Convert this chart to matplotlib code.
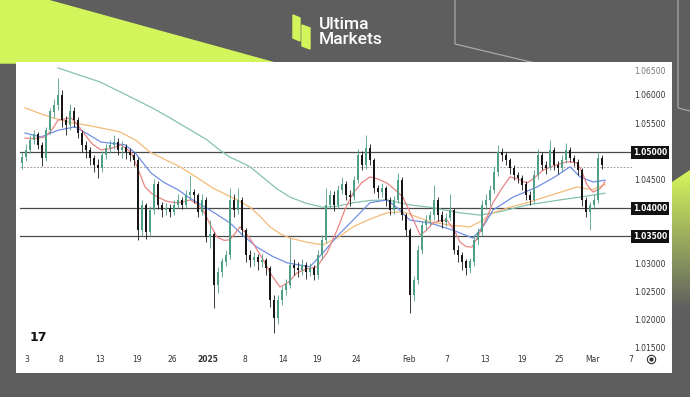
import numpy as np
import matplotlib
matplotlib.use("Agg")
import matplotlib.pyplot as plt
from matplotlib.patches import Polygon, Rectangle

# ---- candle data (4h-style bars) ----
close = [1.0491, 1.0504, 1.0522, 1.0531, 1.0513, 1.0490, 1.0539, 1.0572, 1.0584, 1.0602,
         1.0557, 1.0548, 1.0572, 1.0557, 1.0534, 1.0513, 1.0504, 1.0490, 1.0477, 1.0472,
         1.0495, 1.0507, 1.0513, 1.0518, 1.0504, 1.0509, 1.0500, 1.0495, 1.0486, 1.0361,
         1.0406, 1.0357, 1.0397, 1.0442, 1.0406, 1.0397, 1.0401, 1.0394, 1.0406, 1.0415,
         1.0406, 1.0424, 1.0429, 1.0424, 1.0394, 1.0415, 1.0349, 1.0353, 1.0264, 1.0287,
         1.0305, 1.0317, 1.0415, 1.0397, 1.0415, 1.0361, 1.0317, 1.0308, 1.0312, 1.0305,
         1.0308, 1.0294, 1.0237, 1.0205, 1.0237, 1.0255, 1.0264, 1.0299, 1.0294, 1.0290,
         1.0299, 1.0287, 1.0294, 1.0281, 1.0317, 1.0344, 1.0406, 1.0424, 1.0406, 1.0433,
         1.0442, 1.0424, 1.0420, 1.0450, 1.0495, 1.0477, 1.0507, 1.0486, 1.0436, 1.0429,
         1.0436, 1.0415, 1.0397, 1.0415, 1.0450, 1.0388, 1.0361, 1.0246, 1.0272, 1.0326,
         1.0370, 1.0379, 1.0388, 1.0415, 1.0388, 1.0375, 1.0383, 1.0397, 1.0326, 1.0317,
         1.0305, 1.0294, 1.0305, 1.0344, 1.0357, 1.0406, 1.0415, 1.0433, 1.0465, 1.0500,
         1.0495, 1.0486, 1.0472, 1.0459, 1.0454, 1.0442, 1.0424, 1.0415, 1.0459, 1.0495,
         1.0477, 1.0472, 1.0504, 1.0477, 1.0472, 1.0486, 1.0504, 1.0490, 1.0482, 1.0468,
         1.0415, 1.0394, 1.0406, 1.0415, 1.0490, 1.0477]
high = [1.0500, 1.0515, 1.0530, 1.0540, 1.0536, 1.0518, 1.0545, 1.0578, 1.0595, 1.0632,
        1.0610, 1.0565, 1.0585, 1.0580, 1.0562, 1.0540, 1.0520, 1.0510, 1.0495, 1.0488,
        1.0502, 1.0515, 1.0522, 1.0531, 1.0525, 1.0520, 1.0515, 1.0508, 1.0500, 1.0492,
        1.0415, 1.0410, 1.0405, 1.0452, 1.0448, 1.0412, 1.0410, 1.0408, 1.0415, 1.0425,
        1.0420, 1.0432, 1.0459, 1.0435, 1.0428, 1.0425, 1.0420, 1.0380, 1.0358, 1.0295,
        1.0312, 1.0325, 1.0436, 1.0425, 1.0436, 1.0420, 1.0365, 1.0325, 1.0322, 1.0318,
        1.0318, 1.0312, 1.0298, 1.0245, 1.0245, 1.0262, 1.0275, 1.0347, 1.0310, 1.0305,
        1.0310, 1.0305, 1.0302, 1.0300, 1.0325, 1.0352, 1.0436, 1.0432, 1.0430, 1.0442,
        1.0455, 1.0448, 1.0432, 1.0458, 1.0505, 1.0502, 1.0531, 1.0515, 1.0490, 1.0442,
        1.0445, 1.0440, 1.0420, 1.0422, 1.0463, 1.0455, 1.0392, 1.0365, 1.0280, 1.0335,
        1.0378, 1.0388, 1.0395, 1.0442, 1.0420, 1.0395, 1.0392, 1.0425, 1.0400, 1.0335,
        1.0322, 1.0310, 1.0312, 1.0352, 1.0365, 1.0415, 1.0425, 1.0442, 1.0475, 1.0513,
        1.0508, 1.0500, 1.0490, 1.0478, 1.0465, 1.0460, 1.0448, 1.0430, 1.0468, 1.0505,
        1.0500, 1.0485, 1.0522, 1.0510, 1.0485, 1.0495, 1.0516, 1.0510, 1.0495, 1.0488,
        1.0472, 1.0420, 1.0412, 1.0425, 1.0500, 1.0495]
low = [1.0470, 1.0485, 1.0498, 1.0515, 1.0505, 1.0475, 1.0485, 1.0532, 1.0560, 1.0575,
       1.0545, 1.0530, 1.0540, 1.0545, 1.0525, 1.0500, 1.0490, 1.0478, 1.0465, 1.0454,
       1.0465, 1.0488, 1.0498, 1.0505, 1.0495, 1.0490, 1.0488, 1.0485, 1.0475, 1.0344,
       1.0350, 1.0345, 1.0350, 1.0390, 1.0398, 1.0385, 1.0388, 1.0385, 1.0388, 1.0400,
       1.0398, 1.0400, 1.0415, 1.0410, 1.0385, 1.0388, 1.0340, 1.0330, 1.0223, 1.0250,
       1.0278, 1.0298, 1.0310, 1.0385, 1.0390, 1.0352, 1.0305, 1.0295, 1.0298, 1.0290,
       1.0295, 1.0282, 1.0225, 1.0178, 1.0195, 1.0228, 1.0245, 1.0258, 1.0282, 1.0278,
       1.0282, 1.0275, 1.0280, 1.0272, 1.0275, 1.0310, 1.0338, 1.0398, 1.0395, 1.0400,
       1.0425, 1.0415, 1.0405, 1.0415, 1.0445, 1.0468, 1.0470, 1.0478, 1.0428, 1.0418,
       1.0420, 1.0405, 1.0388, 1.0390, 1.0410, 1.0380, 1.0350, 1.0214, 1.0235, 1.0265,
       1.0318, 1.0362, 1.0370, 1.0380, 1.0378, 1.0365, 1.0368, 1.0378, 1.0318, 1.0305,
       1.0290, 1.0281, 1.0285, 1.0298, 1.0335, 1.0350, 1.0398, 1.0405, 1.0428, 1.0458,
       1.0485, 1.0478, 1.0462, 1.0450, 1.0445, 1.0432, 1.0415, 1.0406, 1.0410, 1.0452,
       1.0468, 1.0462, 1.0468, 1.0468, 1.0462, 1.0465, 1.0480, 1.0482, 1.0475, 1.0460,
       1.0405, 1.0385, 1.0361, 1.0398, 1.0410, 1.0470]
first_open = 1.0480

# ---- moving averages, sampled along the chart (bar index, price) ----
ma20_x = [0.75, 3, 5.75, 7.5, 9, 12.25, 14, 15.75, 17.5, 19.75, 22, 24.75, 27.25, 29, 30.75,
          32.5, 34, 36, 38.25, 40, 42, 43.75, 45.25, 47, 48.75, 50.5, 52, 54.5, 56, 57.75,
          60, 62.5, 64.5, 66.5, 68.75, 71, 73.75, 76.25, 78.75, 80.75, 82.75, 85, 87, 89,
          91.25, 93.25, 95.25, 97.5, 99.5, 101, 102.75, 104.5, 106.25, 108, 109.5, 111,
          112.5, 114, 116, 117.75, 120, 122, 124, 126.25, 128.25, 130.25, 133, 136.25,
          138.75, 140, 141.25, 142.75, 144.5, 145.75]
ma20_y = [1.0525, 1.0524, 1.0527, 1.0540, 1.0557, 1.0561, 1.0548, 1.0531, 1.0515, 1.0504,
          1.0506, 1.0513, 1.0500, 1.0470, 1.0438, 1.0426, 1.0420, 1.0413, 1.0410, 1.0411,
          1.0415, 1.0408, 1.0397, 1.0372, 1.0349, 1.0343, 1.0344, 1.0367, 1.0356, 1.0338,
          1.0312, 1.0280, 1.0260, 1.0268, 1.0285, 1.0292, 1.0296, 1.0321, 1.0361, 1.0398,
          1.0427, 1.0446, 1.0456, 1.0452, 1.0445, 1.0433, 1.0420, 1.0385, 1.0353, 1.0360,
          1.0374, 1.0378, 1.0379, 1.0362, 1.0340, 1.0332, 1.0331, 1.0350, 1.0380, 1.0410,
          1.0436, 1.0456, 1.0452, 1.0445, 1.0455, 1.0468, 1.0476, 1.0483, 1.0481, 1.0465,
          1.0442, 1.0429, 1.0435, 1.0447]
ma50_x = [0.75, 4.75, 9, 13.25, 16.5, 19.75, 25.75, 28.25, 30.25, 32.25, 35.5, 39, 42, 47,
          52, 55.5, 58.75, 62.5, 66.25, 72, 75.25, 79, 82.75, 87, 91.25, 94, 97, 102,
          107.75, 112.75, 115.5, 117.75, 122.75, 128.75, 133, 137, 139.5, 142.75, 145.75]
ma50_y = [1.0534, 1.0527, 1.0539, 1.0545, 1.0532, 1.0518, 1.0513, 1.0499, 1.0481, 1.0463,
          1.0446, 1.0433, 1.0418, 1.0397, 1.0374, 1.0350, 1.0331, 1.0315, 1.0303, 1.0296,
          1.0321, 1.0352, 1.0379, 1.0410, 1.0415, 1.0400, 1.0379, 1.0374, 1.0361, 1.0347,
          1.0370, 1.0397, 1.0420, 1.0438, 1.0455, 1.0474, 1.0456, 1.0447, 1.0450]
ma100_x = [0.75, 4, 7.75, 12, 16.25, 20.5, 24.5, 28.5, 32, 36, 39.5, 43.5, 47.75, 53.75, 57,
           59.5, 62, 64.5, 67, 71, 75.25, 79, 82.75, 87, 91.25, 95.25, 99, 102, 107, 112,
           115, 117.75, 122, 126.25, 132.5, 138.75, 142.5, 145.75]
ma100_y = [1.0579, 1.0570, 1.0561, 1.0553, 1.0548, 1.0542, 1.0536, 1.0521, 1.0500, 1.0486,
           1.0474, 1.0456, 1.0436, 1.0415, 1.0402, 1.0386, 1.0367, 1.0355, 1.0347, 1.0340,
           1.0335, 1.0348, 1.0367, 1.0381, 1.0392, 1.0394, 1.0384, 1.0376, 1.0370, 1.0367,
           1.0378, 1.0392, 1.0402, 1.0410, 1.0424, 1.0438, 1.0433, 1.0442]
ma200_x = [9, 14, 19.5, 23.5, 27.75, 32.5, 37, 41.5, 46.25, 49, 52, 54.5, 57, 60.25, 63.5, 67,
           71, 75.25, 79, 82.75, 87, 91.25, 97, 102, 109.5, 114.5, 119.5, 126.25, 134.5,
           139.5, 145.75]
ma200_y = [1.0650, 1.0638, 1.0625, 1.0611, 1.0596, 1.0579, 1.0561, 1.0542, 1.0522, 1.0506,
           1.0491, 1.0483, 1.0474, 1.0455, 1.0436, 1.0420, 1.0409, 1.0402, 1.0404, 1.0410,
           1.0414, 1.0415, 1.0406, 1.0402, 1.0392, 1.0388, 1.0394, 1.0406, 1.0415, 1.0420,
           1.0427]

# ---- axis text ----
date_pos = [1.25, 9.75, 19.5, 28.75, 37.5, 46.5, 55.75, 65.25, 73.75, 83.5, 96.75, 106.25,
            115.75, 125, 134.25, 142.75, 152.25]
date_lbl = ["3", "8", "13", "19", "26", "2025", "8", "14", "19", "24", "Feb", "7", "13", "19",
            "25", "Mar", "7"]
price_ticks = [1.065, 1.060, 1.055, 1.050, 1.045, 1.040, 1.035, 1.030, 1.025, 1.020, 1.015]
levels = [1.050, 1.040, 1.035]
last_price = 1.0474

W, H = 690, 397
fig = plt.figure(figsize=(W / 100, H / 100), dpi=100)

# background layer in pixel coords
bg = fig.add_axes([0, 0, 1, 1], zorder=0)
bg.axis("off")
bg.add_patch(Rectangle((0, 0), W, H, color="#5e5e5e", zorder=0))
lime = "#d3f55c"
bg.add_patch(Polygon([(0, 0), (47, 0), (275, 63), (0, 63)], closed=True, color=lime,
                     zorder=1))
# faded lime on right edge
grad = np.zeros((60, 1, 4))
top = np.array([0.83, 0.96, 0.36])
bot = np.array([0.37, 0.37, 0.37])
for k in range(60):
    t = min(1.0, k / 50)
    grad[k, 0, :3] = top * (1 - t) + bot * t
    grad[k, 0, 3] = 1
clip = Polygon([(672, 182), (690, 170), (690, 335), (672, 335)], closed=True,
               transform=bg.transData, fill=False, lw=0)
bg.add_patch(clip)
im = bg.imshow(grad, extent=(672, 690, 335, 170), aspect="auto", zorder=2)
im.set_clip_path(clip)
bg.set_xlim(0, W)
bg.set_ylim(H, 0)
# thin decorative lines
bg.plot([455, 455, 535], [0, 44, 63], color="#a8a8a8", lw=0.9, zorder=3)
bg.plot([678, 678, 690], [0, 108, 111], color="#a8a8a8", lw=0.9, zorder=3)
# logo
bg.add_patch(Polygon([(293, 15), (300, 18), (300, 41), (293, 38)], closed=True, color=lime,
                     zorder=3))
bg.add_patch(Polygon([(302, 25), (310, 28), (310, 49), (302, 46)], closed=True, color=lime,
                     zorder=3))
bg.text(319, 32, "Ultima\nMarkets", color="white", fontsize=12.5, family="Roboto",
        fontweight="medium", va="center", ha="left", linespacing=1.0, zorder=3)

# chart panel
ax = fig.add_axes([16 / W, 1 - 373 / H, (672 - 16) / W, (373 - 62) / H], zorder=2)
ax.set_facecolor("white")
for s in ax.spines.values():
    s.set_visible(False)
ax.set_xticks([])
ax.set_yticks([])
ax.set_xlim(-1.5, 162.5)
ax.set_ylim(1.01069, 1.06605)

close = np.array(close)
high = np.array(high)
low = np.array(low)
opn = np.r_[first_open, close[:-1]]
xs = np.arange(len(close))
up = close >= opn
up_c, dn_c = "#4f9f89", "#161616"
cols = np.where(up, up_c, dn_c)
ax.vlines(xs, low, high, colors=cols, lw=0.6, zorder=3)
ax.bar(xs, np.abs(close - opn) + 0.00005, bottom=np.minimum(close, opn), width=0.55,
       color=cols, zorder=4, linewidth=0)

# moving averages
ax.plot(ma200_x, ma200_y, color="#86c2ae", lw=0.9, zorder=2)
ax.plot(ma100_x, ma100_y, color="#f4bb78", lw=0.9, zorder=2)
ax.plot(ma50_x, ma50_y, color="#6f8fe6", lw=0.9, zorder=2)
ax.plot(ma20_x, ma20_y, color="#ea8585", lw=0.9, zorder=2)

# levels and last price
for lv in levels:
    ax.plot([-0.5, 153], [lv, lv], color="#4a4a4a", lw=0.9, zorder=1)
ax.plot([-0.5, 152.75], [last_price, last_price], color="#8a8a8a", lw=0.6,
        ls=(0, (2, 2)), zorder=1)

# price scale
for p in price_ticks:
    if p in levels:
        ax.text(157, p, f"{p:.5f}", color="white", fontsize=5.5, ha="center", va="center",
                fontweight="bold", zorder=6,
                bbox=dict(boxstyle="square,pad=0.25", fc="#111111", ec="none"))
    elif p == 1.065:
        ax.text(157, p - 0.0006, f"{p:.5f}", color="#777777", fontsize=5.5, ha="center",
                va="center", zorder=6)
    else:
        ax.text(157, p, f"{p:.5f}", color="#333333", fontsize=5.5, ha="center",
                va="center", zorder=6)

# time scale
for xp, lb in zip(date_pos, date_lbl):
    ax.text(xp, 0.045, lb, transform=ax.get_xaxis_transform(), color="#333333",
            fontsize=5.5, ha="center", va="center",
            fontweight="bold" if lb == "2025" else "normal")
ax.plot([157.3], [0.045], transform=ax.get_xaxis_transform(), marker="o", ms=6,
        mfc="white", mec="#333333", mew=0.8, clip_on=False)
ax.plot([157.3], [0.045], transform=ax.get_xaxis_transform(), marker="o", ms=2,
        mfc="#333333", mec="#333333", clip_on=False)

# TradingView mark
ax.text(2.0, 0.115, "17", transform=ax.get_xaxis_transform(), fontsize=9,
        fontweight="heavy", color="#111111", ha="left", va="center")

fig.savefig("out.png", dpi=100, facecolor="#5e5e5e")
